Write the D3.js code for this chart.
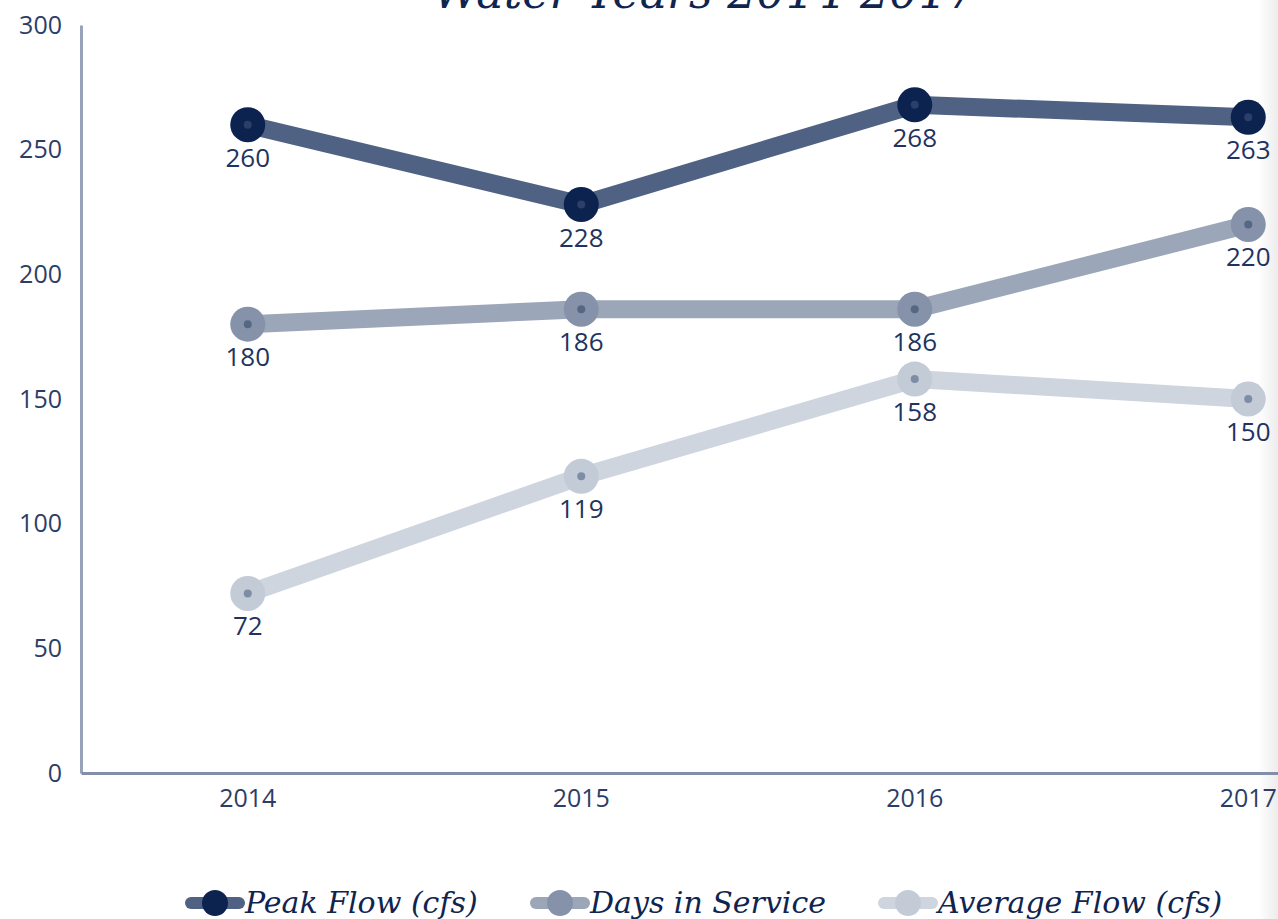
<!DOCTYPE html>
<html>
<head>
<meta charset="utf-8">
<script src="https://cdn.jsdelivr.net/npm/d3@7"></script>
<style>
  html, body { margin: 0; padding: 0; background: #fff; overflow: hidden; }
  svg { display: block; }
  .tick text { font-family: "Open Sans", "Noto Sans", sans-serif; }
</style>
</head>
<body>
<svg width="1278" height="919"></svg>
<script>
"use strict"

let years = ["2014", "2015", "2016", "2017"]
let peakFlow = [260, 228, 268, 263]
let daysInService = [180, 186, 186, 220]
let averageFlow = [72, 119, 158, 150]
let yTicks = [0, 50, 100, 150, 200, 250, 300]

let series = [
    {name: "Peak Flow (cfs)", values: peakFlow, line: "#4f6283", dot: "#0c2350", core: "#2b3f68"},
    {name: "Days in Service", values: daysInService, line: "#9ba6b8", dot: "#8592a9", core: "#566783"},
    {name: "Average Flow (cfs)", values: averageFlow, line: "#cfd5df", dot: "#c3cbd7", core: "#7e8ca5"}
]

let svg = d3.select("svg"),
    margin = {left: 81, top: 25},
    plotHeight = 748,
    plotWidth = 1334

let x = d3.scaleBand().domain(years).range([0, plotWidth]),
    y = d3.scaleLinear().domain([0, 300]).range([plotHeight, 0])

// faint grey strip on the right edge
let edge = svg.append("defs").append("linearGradient")
    .attr("id", "edge")
edge.append("stop").attr("offset", "0%").attr("stop-color", "#fff")
edge.append("stop").attr("offset", "100%").attr("stop-color", "#ececec")
svg.append("rect")
    .attr("x", 1258).attr("y", 0)
    .attr("width", 20).attr("height", 919)
    .attr("fill", "url(#edge)")

let g = svg.append("g")
    .attr("transform", "translate(" + margin.left + "," + margin.top + ")")

// y axis
let yAxis = g.append("g")
    .call(d3.axisLeft(y).tickValues(yTicks).tickSize(0).tickPadding(19))
yAxis.select(".domain").attr("stroke", "#97a3b8").attr("stroke-width", 3)
yAxis.selectAll("text")
    .attr("fill", "#2c3e66")
    .attr("font-size", 25)

// x axis
let xAxis = g.append("g")
    .attr("transform", "translate(0," + plotHeight + ")")
    .call(d3.axisBottom(x).tickSize(0).tickPadding(16))
xAxis.select(".domain").attr("stroke", "#8190a8").attr("stroke-width", 3)
xAxis.selectAll("text")
    .attr("fill", "#2c3e66")
    .attr("font-size", 25)

let cx = d => x(d) + x.bandwidth() / 2

let line = d3.line()
    .x((d, i) => cx(years[i]))
    .y(d => y(d))

// draw from lightest to darkest
series.slice().reverse().forEach(s => {
    g.append("path")
	.datum(s.values)
	.attr("fill", "none")
	.attr("stroke", s.line)
	.attr("stroke-width", 18)
	.attr("stroke-linejoin", "round")
	.attr("d", line)

    g.selectAll(null)
	.data(s.values)
	.enter().append("circle")
	.attr("cx", (d, i) => cx(years[i]))
	.attr("cy", d => y(d))
	.attr("r", 17.5)
	.attr("fill", s.dot)

    g.selectAll(null)
	.data(s.values)
	.enter().append("circle")
	.attr("cx", (d, i) => cx(years[i]))
	.attr("cy", d => y(d))
	.attr("r", 4)
	.attr("fill", s.core)

    g.selectAll(null)
	.data(s.values)
	.enter().append("text")
	.attr("x", (d, i) => cx(years[i]))
	.attr("y", d => y(d) + 42)
	.attr("text-anchor", "middle")
	.attr("font-family", "'Open Sans', 'Noto Sans', sans-serif")
	.attr("font-size", 26)
	.attr("fill", "#1f335e")
	.text(d => d)
})

// title (mostly cut off at the top, as in the source image)
svg.append("text")
    .attr("x", 705)
    .attr("y", 8)
    .attr("text-anchor", "middle")
    .attr("font-family", "'DejaVu Serif', serif")
    .attr("font-style", "italic")
    .attr("font-size", 46)
    .attr("fill", "#0f2550")
    .text("Water Years 2014-2017")

// legend
let legendX = [215, 560, 908]
let legend = svg.append("g")
series.forEach((s, i) => {
    let lg = legend.append("g")
	.attr("transform", "translate(" + legendX[i] + ",903)")
    lg.append("line")
	.attr("x1", -24).attr("x2", 24)
	.attr("stroke", s.line)
	.attr("stroke-width", 12)
	.attr("stroke-linecap", "round")
    lg.append("circle")
	.attr("r", 13)
	.attr("fill", s.dot)
    lg.append("text")
	.attr("x", 30)
	.attr("y", 10)
	.attr("font-family", "'DejaVu Serif', serif")
	.attr("font-style", "italic")
	.attr("font-size", 30)
	.attr("fill", "#0f2550")
	.text(s.name)
})
</script>
</body>
</html>
